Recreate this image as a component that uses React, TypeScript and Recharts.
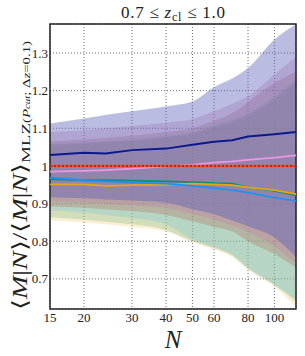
import { Area, CartesianGrid, ComposedChart, Line, ReferenceArea, XAxis, YAxis } from "recharts"

const nValues = [15, 20, 24, 30, 40, 50, 60, 70, 80, 100, 120]
const xTicks = [15, 20, 30, 40, 50, 60, 70, 80, 100]
const yTicks = [0.7, 0.8, 0.9, 1.0, 1.1, 1.2, 1.3]

const navyMean = [1.029, 1.035, 1.033, 1.042, 1.046, 1.056, 1.064, 1.068, 1.078, 1.084, 1.09]
const pinkMean = [0.985, 0.987, 0.989, 0.993, 0.999, 1.003, 1.009, 1.012, 1.016, 1.022, 1.028]
const redMean = [1.0, 1.0, 1.0, 1.0, 1.0, 1.0, 1.0, 1.0, 1.0, 1.0, 1.0]
const tealMean = [0.965, 0.962, 0.962, 0.961, 0.959, 0.957, 0.954, 0.953, 0.943, 0.934, 0.922]
const yellowMean = [0.951, 0.951, 0.947, 0.949, 0.95, 0.953, 0.951, 0.949, 0.943, 0.936, 0.925]
const blueMean = [0.969, 0.962, 0.959, 0.956, 0.953, 0.947, 0.941, 0.936, 0.929, 0.916, 0.907]

const navyHi = [1.113, 1.126, 1.135, 1.145, 1.158, 1.171, 1.209, 1.232, 1.26, 1.336, 1.376]
const navyLo = [0.917, 0.914, 0.911, 0.908, 0.902, 0.885, 0.872, 0.855, 0.84, 0.81, 0.758]
const pinkHi = [1.09, 1.095, 1.1, 1.106, 1.115, 1.125, 1.145, 1.165, 1.185, 1.243, 1.29]
const pinkLo = [0.906, 0.902, 0.899, 0.895, 0.888, 0.872, 0.858, 0.842, 0.824, 0.787, 0.74]
const redHi = [1.065, 1.07, 1.075, 1.08, 1.09, 1.1, 1.12, 1.14, 1.17, 1.22, 1.25]
const redLo = [0.893, 0.889, 0.885, 0.88, 0.87, 0.853, 0.838, 0.826, 0.8, 0.766, 0.73]
const blueHi = [1.058, 1.062, 1.066, 1.07, 1.08, 1.09, 1.108, 1.124, 1.14, 1.185, 1.23]
const blueLo = [0.882, 0.876, 0.87, 0.862, 0.845, 0.805, 0.785, 0.765, 0.73, 0.686, 0.646]
const tealHi = [1.056, 1.06, 1.064, 1.068, 1.077, 1.087, 1.104, 1.12, 1.136, 1.18, 1.225]
const tealLo = [0.864, 0.858, 0.852, 0.845, 0.83, 0.8, 0.782, 0.762, 0.727, 0.683, 0.64]
const yellowHi = [1.054, 1.058, 1.062, 1.066, 1.075, 1.085, 1.1, 1.115, 1.132, 1.175, 1.22]
const yellowLo = [0.856, 0.85, 0.845, 0.838, 0.826, 0.797, 0.778, 0.758, 0.724, 0.68, 0.625]

const data = nValues.map((n, i) => ({
  n,
  navy: navyMean[i],
  pink: pinkMean[i],
  red: redMean[i],
  teal: tealMean[i],
  yellow: yellowMean[i],
  blue: blueMean[i],
  navyBand: [navyLo[i], navyHi[i]],
  pinkBand: [pinkLo[i], pinkHi[i]],
  redBand: [redLo[i], redHi[i]],
  blueBand: [blueLo[i], blueHi[i]],
  tealBand: [tealLo[i], tealHi[i]],
  yellowBand: [yellowLo[i], yellowHi[i]],
}))

const font = "'Liberation Serif', serif"

export default function App() {
  return (
    <div style={{ position: "absolute", left: 0, top: 0, width: 305, height: 356, background: "#fff" }}>
      <ComposedChart width={305} height={356} data={data} margin={{ top: 24, right: 9, bottom: 17, left: 0 }}>
        <Area dataKey="yellowBand" type="monotone" fill="#f0c86e" fillOpacity={0.3} stroke="none" isAnimationActive={false} />
        <Area dataKey="tealBand" type="monotone" fill="#5aaa6e" fillOpacity={0.25} stroke="none" isAnimationActive={false} />
        <Area dataKey="blueBand" type="monotone" fill="#64bee6" fillOpacity={0.25} stroke="none" isAnimationActive={false} />
        <Area dataKey="redBand" type="monotone" fill="#b47864" fillOpacity={0.35} stroke="none" isAnimationActive={false} />
        <Area dataKey="pinkBand" type="monotone" fill="#c878aa" fillOpacity={0.3} stroke="none" isAnimationActive={false} />
        <Area dataKey="navyBand" type="monotone" fill="#5a5fb9" fillOpacity={0.42} stroke="none" isAnimationActive={false} />
        <CartesianGrid stroke="#444" strokeDasharray="1 2" strokeWidth={0.8} />
        <Line dataKey="navy" stroke="#0a1a8c" strokeWidth={2} dot={false} isAnimationActive={false} />
        <Line dataKey="pink" stroke="#ec96e4" strokeWidth={1.8} dot={false} isAnimationActive={false} />
        <Line dataKey="teal" stroke="#128a7a" strokeWidth={1.8} dot={false} isAnimationActive={false} />
        <Line dataKey="yellow" stroke="#e4a614" strokeWidth={1.8} dot={false} isAnimationActive={false} />
        <Line dataKey="blue" stroke="#2090f4" strokeWidth={1.8} dot={false} isAnimationActive={false} />
        <Line dataKey="red" stroke="#e85a1c" strokeWidth={2.5} dot={false} isAnimationActive={false} />
        <Line dataKey="red" stroke="#c81e1e" strokeWidth={2} strokeDasharray="2 2" dot={false} isAnimationActive={false} />
        <ReferenceArea x1={15} x2={120} y1={0.62} y2={1.377} fill="none" stroke="#222" strokeWidth={1.5} />
        <XAxis
          dataKey="n"
          type="number"
          scale="log"
          domain={[15, 120]}
          ticks={xTicks}
          allowDataOverflow
          tickLine={false}
          axisLine={false}
          tickSize={4}
          tickMargin={0}
          tick={{ fill: "#222", fontSize: 13, fontFamily: font }}
        />
        <YAxis
          type="number"
          domain={[0.62, 1.377]}
          ticks={yTicks}
          allowDataOverflow
          width={50}
          tickLine={false}
          axisLine={false}
          tickSize={2}
          tickMargin={0}
          tickFormatter={(v: number) => (v === 1 ? "1" : v.toFixed(1))}
          tick={{ fill: "#222", fontSize: 13, fontFamily: font }}
        />
      </ComposedChart>
      <svg width={305} height={356} style={{ position: "absolute", left: 0, top: 0, pointerEvents: "none" }}>
        <text x={173} y={18} textAnchor="middle" fontFamily={font} fontSize={17} fill="#222" textLength={104} lengthAdjust="spacing">
          0.7 ≤ <tspan fontStyle="italic">z</tspan>
          <tspan fontSize={12} dy={3}>cl</tspan>
          <tspan dy={-3}> ≤ 1.0</tspan>
        </text>
        <text x={173} y={348} textAnchor="middle" fontFamily={font} fontSize={25} fontStyle="italic" fill="#222">
          N
        </text>
        <g transform="translate(27,310) rotate(-90)">
          <text x={0} y={0} fontFamily={font} fontSize={21} fill="#222" textLength={147} lengthAdjust="spacingAndGlyphs">
            ⟨<tspan fontStyle="italic">M</tspan>|<tspan fontStyle="italic">N</tspan>⟩/⟨<tspan fontStyle="italic">M</tspan>|<tspan fontStyle="italic">N</tspan>⟩
          </text>
        </g>
        <g transform="translate(30,163) rotate(-90)">
          <text x={0} y={0} fontFamily={font} fontSize={13} fill="#222" textLength={40} lengthAdjust="spacingAndGlyphs">
            MLZ
          </text>
        </g>
        <g transform="translate(30,123) rotate(-90)">
          <text x={0} y={0} fontFamily={font} fontSize={11} fill="#222" textLength={82} lengthAdjust="spacingAndGlyphs">
            (<tspan fontStyle="italic">P</tspan>
            <tspan fontStyle="italic" fontSize={8}>cut</tspan>; Δ<tspan fontStyle="italic">z</tspan>=0.1)
          </text>
        </g>
      </svg>
    </div>
  )
}
